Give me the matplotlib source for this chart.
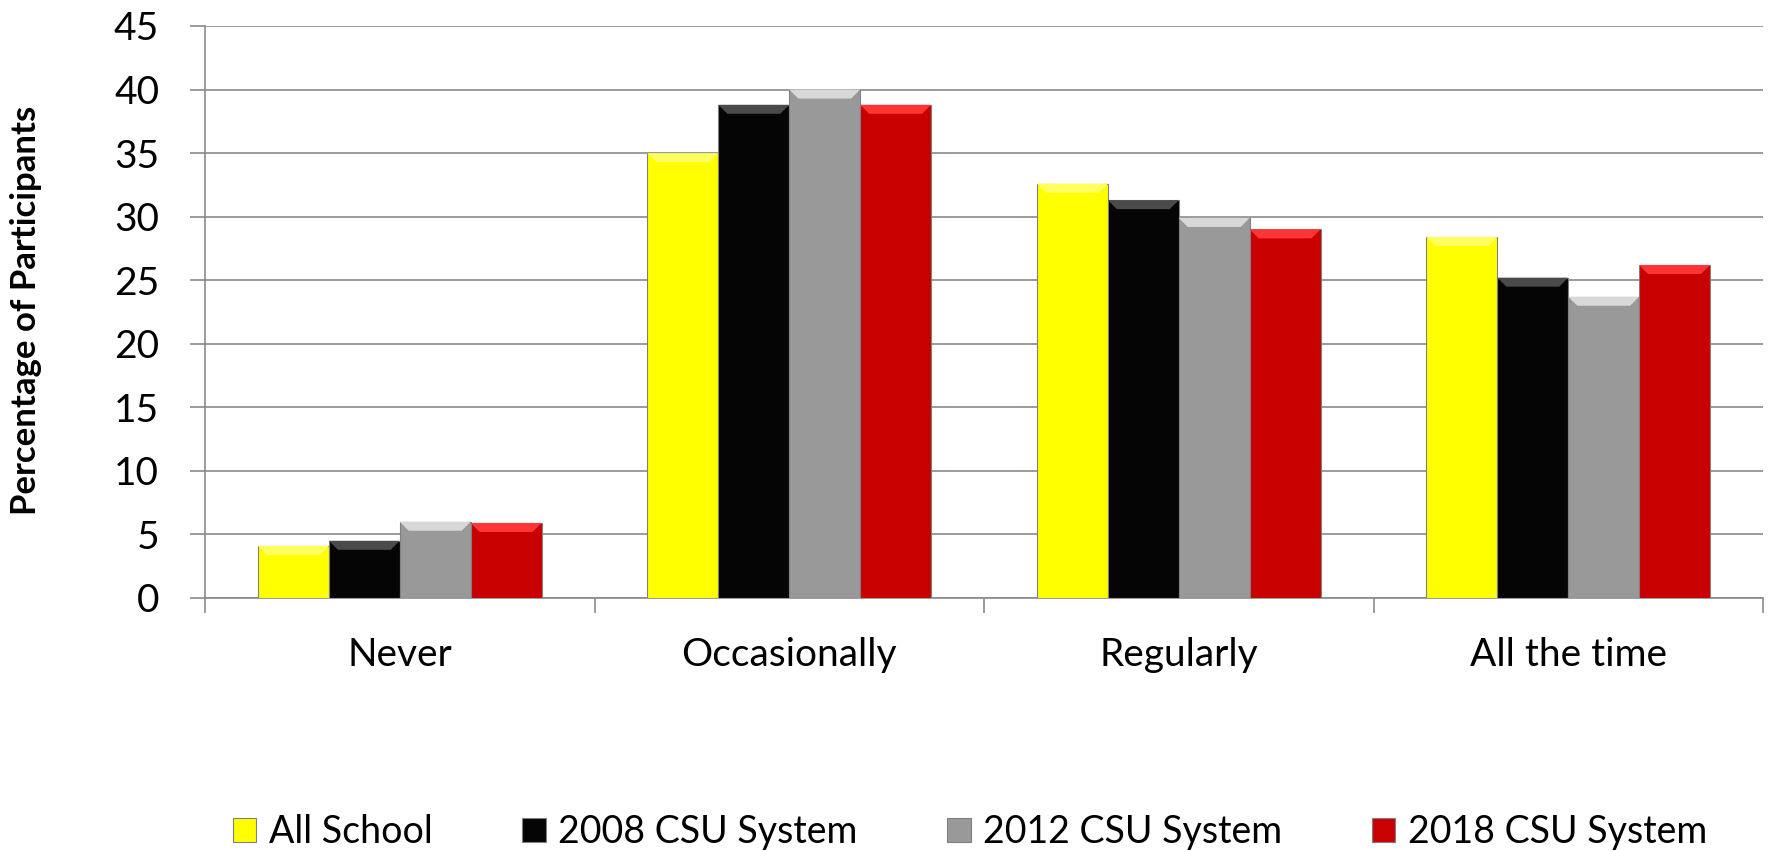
import matplotlib
matplotlib.use("Agg")
import matplotlib.pyplot as plt
from matplotlib.patches import Polygon, Patch
import numpy as np

plt.rcParams['font.family'] = ['Lato', 'DejaVu Sans']

categories = ["Never", "Occasionally", "Regularly", "All the time"]
series_names = ["All School", "2008 CSU System", "2012 CSU System", "2018 CSU System"]
all_school = [4.1, 35.0, 32.6, 28.4]
csu_2008 = [4.5, 38.8, 31.3, 25.2]
csu_2012 = [6.0, 40.0, 29.9, 23.7]
csu_2018 = [5.9, 38.8, 29.0, 26.2]
yticks = [0, 5, 10, 15, 20, 25, 30, 35, 40, 45]

colors = ["#FFFF00", "#050505", "#999999", "#C80000"]
bevel_colors = ["#FFFF60", "#4a4a4a", "#D8D8D8", "#FF3535"]
edge = "#808080"

W, H = 1769, 852
fig = plt.figure(figsize=(W / 100, H / 100), dpi=100)
ax = fig.add_axes([205 / W, 1 - 598 / H, (1763 - 205) / W, (598 - 26) / H])

x = np.arange(len(categories))
bw = 0.182
data = [all_school, csu_2008, csu_2012, csu_2018]
bars_all = []
for i, vals in enumerate(data):
    bars = ax.bar(x + (i - 1.5) * bw, vals, width=bw, color=colors[i],
                  edgecolor=edge, linewidth=0.8, zorder=3)
    bars_all.append(bars)

ax.set_xlim(-0.5, 3.5)
ax.set_ylim(0, 45)

# bevel on top of each bar, derived from bar geometry
px_per_x = (1763 - 205) / 4.0
px_per_y = (598 - 26) / 45.0
dx = 9 / px_per_x
dy = 9 / px_per_y
for i, bars in enumerate(bars_all):
    for p in bars:
        x0, w, h = p.get_x(), p.get_width(), p.get_height()
        poly = Polygon([(x0, h), (x0 + w, h), (x0 + w - dx, h - dy), (x0 + dx, h - dy)],
                       closed=True, facecolor=bevel_colors[i], edgecolor='none', zorder=4)
        ax.add_patch(poly)

ax.set_yticks(yticks)
ax.set_yticklabels([str(v) for v in yticks], fontsize=28)
ax.yaxis.grid(True, color="#8a8a8a", linewidth=1.2, zorder=0)
ax.set_axisbelow(True)
ax.tick_params(axis='y', length=11, width=1.2, color="#8a8a8a", pad=22)

ax.set_xticks(x)
ax.set_xticklabels(categories, fontsize=28)
ax.set_xticks(np.arange(-0.5, 4.0, 1.0), minor=True)
ax.tick_params(axis='x', which='major', length=0, pad=28)
ax.tick_params(axis='x', which='minor', length=11, width=1.2, color="#8a8a8a")

for s in ['top', 'right']:
    ax.spines[s].set_visible(False)
for s in ['left', 'bottom']:
    ax.spines[s].set_color("#8a8a8a")
    ax.spines[s].set_linewidth(1.2)

fig.text(26 / W, 1 - 310 / H, "Percentage of Participants", rotation=90,
         fontsize=25, fontweight='bold', ha='center', va='center')

handles = [Patch(facecolor=colors[i], edgecolor=edge, linewidth=0.8) for i in range(4)]
fig.legend(handles, series_names, loc='center', ncol=4,
           bbox_to_anchor=(970 / W, 1 - 832 / H), frameon=False, fontsize=27,
           handlelength=0.62, handleheight=0.62, handletextpad=0.33,
           columnspacing=2.4, borderpad=0, borderaxespad=0)

fig.savefig("out.png", dpi=100)
